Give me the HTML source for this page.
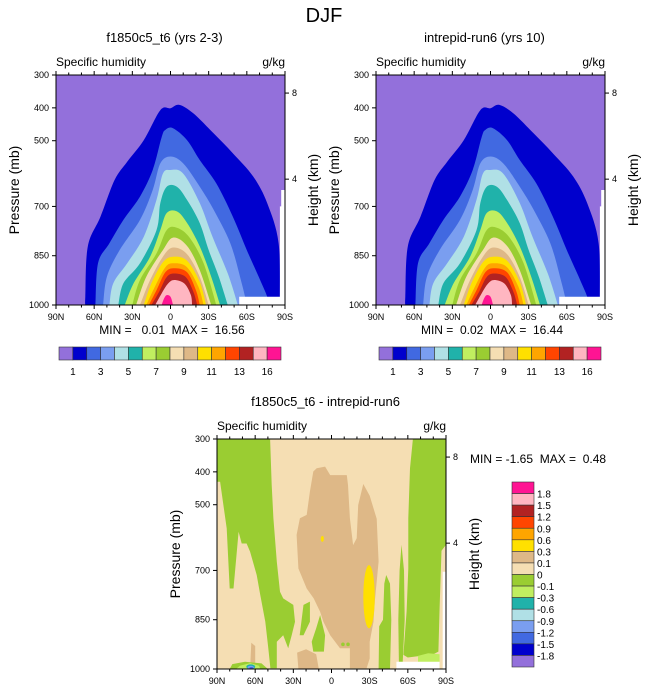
<!DOCTYPE html>
<html><head><meta charset="utf-8"><style>
html,body{margin:0;padding:0;background:#fff;}
svg{display:block;font-family:"Liberation Sans",sans-serif;}
text{white-space:pre;}
</style></head><body>
<svg id="fig" width="648" height="694" viewBox="0 0 648 694" xmlns="http://www.w3.org/2000/svg">
<text x="324" y="22" font-size="20" text-anchor="middle">DJF</text>
<g id="p1"></g>
<g id="p2"></g>
<g id="p3"></g>
</svg>
<script>
// ---- data ----
const topColors = ["#9370db","#0000cd","#4169e1","#7a9ef0","#b0e0e6","#20b2aa","#c0ee60","#9acd32","#f5deb3","#deb887","#ffe000","#ffa500","#ff4500","#b22222","#ffb6c1","#ff1493"];
const topBarLabels = ["1","3","5","7","9","11","13","16"];
const diffColors = ["#ff1493","#ffb6c1","#b22222","#ff4500","#ffa500","#ffe000","#deb887","#f5deb3","#9acd32","#c0ee60","#20b2aa","#b0e0e6","#7a9ef0","#4169e1","#0000cd","#9370db"];
const diffLabels = ["1.8","1.5","1.2","0.9","0.6","0.3","0.1","0","-0.1","-0.3","-0.6","-0.9","-1.2","-1.5","-1.8"];
const latTicks = [90,60,30,0,-30,-60,-90];
const latTickLabels = ["90N","60N","30N","0","30S","60S","90S"];
const presTicks = [300,400,500,700,850,1000];
const heightTicks = [355,617];
const heightLabels = ["8","4"];
// contour level boundaries [lat, pressure]
const L1=[[67,1000],[67,975],[65,822],[55,731],[44,620],[34,564],[21,498],[8,407],[0,401],[-7,391],[-18,417],[-34,478],[-49,538],[-65,609],[-76,690],[-85,812],[-86,1000]];
const L2=[[59,1000],[57,873],[48,812],[37,741],[24,670],[14,589],[7,490],[4,467],[-2,462],[-13,498],[-23,559],[-36,630],[-49,731],[-60,833],[-70,920],[-76,975],[-76,1000]];
const L3=[[53,1000],[50,914],[40,833],[24,741],[14,650],[8,569],[0,548],[-10,569],[-23,640],[-34,711],[-47,812],[-56,934],[-60,1000]];
const L4=[[48,1000],[45,934],[34,873],[21,792],[11,680],[6,600],[0,589],[-10,600],[-23,690],[-33,792],[-45,904],[-53,1000]];
const L5=[[41,1000],[37,934],[24,873],[11,772],[8,690],[3,640],[-5,640],[-13,680],[-23,751],[-30,833],[-38,914],[-45,1000]];
const L6=[[36,1000],[29,934],[16,853],[8,772],[3,720],[-5,715],[-13,750],[-23,822],[-32,914],[-39,1000]];
const L7=[[30,1000],[24,924],[11,843],[3,772],[-5,765],[-15,795],[-26,873],[-36,1000]];
const L8=[[27,1000],[19,914],[6,833],[-2,795],[-13,820],[-23,894],[-32,1000]];
const L9=[[24,1000],[16,924],[6,853],[-2,825],[-13,845],[-23,915],[-30,1000]];
const L10=[[21,1000],[15,934],[6,870],[-2,853],[-13,865],[-23,930],[-28,1000]];
const L11=[[19,1000],[13,950],[4,885],[-3,873],[-13,885],[-22,945],[-26,1000]];
const L12=[[17,1000],[11,955],[4,900],[-3,888],[-13,900],[-20,955],[-23,1000]];
const L13=[[15,1000],[9,960],[3,915],[-3,904],[-12,915],[-18,960],[-21,1000]];
const L14=[[12,1000],[7,965],[2,935],[-3,924],[-11,935],[-16,970],[-17,1000]];
const L15=[[7,1000],[5,980],[3,970],[0,975],[-2,1000]];
const topLevels=[L1,L2,L3,L4,L5,L6,L7,L8,L9,L10,L11,L12,L13,L14,L15];
const topMissing=[[[-54,975],[-90,975],[-90,1000],[-54,1000]],[[-87,650],[-90,650],[-90,1000],[-86,1000],[-86,700],[-87,700]]];
// difference panel regions
const dGreenL=[[90,300],[48.3,300],[47,440],[45.7,541],[43,673],[40.5,765],[38,785],[34,795],[30,805],[28.7,856],[31.3,897],[34,937],[38,897],[43,917],[43,998],[48,998],[49.7,937],[52,856],[56,775],[58.8,714],[64,643],[66.7,618],[70.6,618],[73,582],[77,755],[80,755],[82.4,572],[87.6,430],[90,430]];
const dGreenR=[[-64,300],[-90,300],[-90,622],[-86.5,640],[-85,815],[-84,947],[-80,955],[-70,960],[-60,965],[-56.5,957],[-59,825],[-60.4,694],[-60.4,541],[-61.7,389]];
const dGreenA=[[9,836],[5,897],[6,947],[14.3,947],[15.6,917],[12,876]];
const dGreenB=[[22,805],[17,795],[17,856],[22,897],[25,897]];
const dGreenC=[[-55,622],[-57,700],[-57.5,850],[-56,980],[-53,980],[-52.5,850],[-53.5,700]];
const dGreenD=[[-43,714],[-46,740],[-47,850],[-46,1000],[-37,1000],[-37.5,870],[-40.5,850],[-41.5,740]];
const dGreenE=[[80,1000],[78,985],[68,978],[55,983],[50,1000]];
const dLime=[[-68,1000],[-68,960],[-76,952],[-85,955],[-85,1000]];
const dLimeL=[[75,1000],[72,990],[64,982],[57,990],[56,1000]];
const dTan=[[11.6,389],[5,384],[1,410],[-8,410],[-12,410],[-13,440],[-14.5,541],[-17,623],[-19.8,602],[-21,501],[-25,437],[-30,473],[-35.5,543],[-37,673],[-34,795],[-33,856],[-30,917],[-30,968],[-27.6,998],[-14.5,998],[-14.5,937],[-6.7,937],[1,897],[6.4,856],[9,826],[14,785],[19.5,755],[26,694],[27.4,592],[24.8,541],[19.5,531],[17,460],[14.3,399]];
const dTanB=[[26,1000],[27,950],[20,940],[12,955],[10,1000]];
const dTanC=[[64,1000],[63,920],[60,930],[60,1000]];
const dYellow=[[-29.5,780,4.5,96],[7.2,604,1.2,9]];
const dDots=[[-9,925],[-13,925]];
const dBlue=[[63.5,993,3.5,7,"#20b2aa"],[63.5,995,2.5,5,"#7a9ef0"],[63,997,1.5,3,"#4169e1"]];
const diffMissing=[[[-51,978],[-85,978],[-85,1000],[-51,1000]],[[-87.4,704],[-90,704],[-90,1000],[-87.4,1000]]];

const NS="http://www.w3.org/2000/svg";
function mk(parent,tag,attrs){const e=document.createElementNS(NS,tag);for(const k in attrs)e.setAttribute(k,attrs[k]);parent.appendChild(e);return e;}
function axes(x0,y0){const W=229,H=230;return{x:l=>x0+(90-l)/180*W,y:p=>y0+(p-300)/700*H,W,H,x0,y0};}
function poly(g,ax,pts,fill,name){
  const d=pts.map(q=>ax.x(q[0]).toFixed(1)+","+ax.y(q[1]).toFixed(1)).join(" ");
  const e=mk(g,"polygon",{points:d,fill:fill});
  
  
}
function smooth(g,ax,pts,fill,name){
  const P=pts.map(q=>[ax.x(q[0]),ax.y(q[1])]);
  let d="M"+P[0][0].toFixed(1)+","+P[0][1].toFixed(1);
  for(let i=0;i<P.length-1;i++){
    const p0=P[Math.max(0,i-1)],p1=P[i],p2=P[i+1],p3=P[Math.min(P.length-1,i+2)];
    const c1=[p1[0]+(p2[0]-p0[0])/6,p1[1]+(p2[1]-p0[1])/6];
    const c2=[p2[0]-(p3[0]-p1[0])/6,p2[1]-(p3[1]-p1[1])/6];
    d+=` C${c1[0].toFixed(1)},${c1[1].toFixed(1)} ${c2[0].toFixed(1)},${c2[1].toFixed(1)} ${p2[0].toFixed(1)},${p2[1].toFixed(1)}`;
  }
  d+=" Z";
  const e=mk(g,"path",{d:d,fill:fill});
  
  
}
function frame(g,ax,title,minmax,mmx,mmy,mmAnchor){
  const t=mk(g,"text",{x:ax.x0+ax.W/2-6,y:ax.y0-33,"font-size":13,"text-anchor":"middle"});t.textContent=title;
  
  const s=mk(g,"text",{x:ax.x0,y:ax.y0-9,"font-size":12});s.textContent="Specific humidity";
  
  const u=mk(g,"text",{x:ax.x0+ax.W,y:ax.y0-9,"font-size":12,"text-anchor":"end"});u.textContent="g/kg";
  
  const r=mk(g,"rect",{x:ax.x0,y:ax.y0,width:ax.W,height:ax.H,fill:"none",stroke:"#000","stroke-width":1});
  
  for(let l=90;l>=-90;l-=10){const X=ax.x(l);const maj=(l%30===0);const len=maj?4:2.5;
    mk(g,"line",{x1:X,x2:X,y1:ax.y0,y2:ax.y0-len,stroke:"#000","stroke-width":1});
    mk(g,"line",{x1:X,x2:X,y1:ax.y0+ax.H,y2:ax.y0+ax.H+len,stroke:"#000","stroke-width":1});}
  latTicks.forEach((l,i)=>{const e=mk(g,"text",{x:ax.x(l),y:ax.y0+ax.H+15,"font-size":9,"text-anchor":"middle"});e.textContent=latTickLabels[i];
    });
  presTicks.forEach(p=>{const Y=ax.y(p);mk(g,"line",{x1:ax.x0-4,x2:ax.x0,y1:Y,y2:Y,stroke:"#000"});
    const e=mk(g,"text",{x:ax.x0-7,y:Y+3,"font-size":9,"text-anchor":"end"});e.textContent=p;
    });
  heightTicks.forEach((p,i)=>{const Y=ax.y(p);mk(g,"line",{x1:ax.x0+ax.W,x2:ax.x0+ax.W+4,y1:Y,y2:Y,stroke:"#000"});
    const e=mk(g,"text",{x:ax.x0+ax.W+7,y:Y+3,"font-size":9});e.textContent=heightLabels[i];
    });
  const yl=mk(g,"text",{"font-size":14,"text-anchor":"middle",transform:`translate(${ax.x0-37},${ax.y0+ax.H/2}) rotate(-90)`});yl.textContent="Pressure (mb)";
  
  const hl=mk(g,"text",{"font-size":14,"text-anchor":"middle",transform:`translate(${ax.x0+ax.W+33},${ax.y0+ax.H/2}) rotate(-90)`});hl.textContent="Height (km)";
  
  const m=mk(g,"text",{x:mmx,y:mmy,"font-size":12,"text-anchor":mmAnchor});m.textContent=minmax;
  
}
function topPanel(g,x0,title,mm){
  const ax=axes(x0,75);
  const bg=mk(g,"rect",{x:ax.x0,y:ax.y0,width:ax.W,height:ax.H,fill:topColors[0]});
  
  topLevels.forEach((L,i)=>smooth(g,ax,L,topColors[i+1],"contour-level-"+(i+1)));
  topMissing.forEach(m=>poly(g,ax,m,"#fff","missing-data"));
  frame(g,ax,title,mm,x0+116,334,"middle");
  // colorbar
  const bx=x0+3,bw=222/16,by=347,bh=13;
  for(let i=0;i<16;i++){const r=mk(g,"rect",{x:bx+i*bw,y:by,width:bw,height:bh,fill:topColors[i],stroke:"#333","stroke-width":0.6});
    }
  topBarLabels.forEach((t,i)=>{const e=mk(g,"text",{x:bx+(2*i+1)*bw,y:by+bh+15,"font-size":10,"text-anchor":"middle"});e.textContent=t;
    });
}
topPanel(document.getElementById("p1"),56,"f1850c5_t6 (yrs 2-3)","MIN =   0.01  MAX =  16.56");
topPanel(document.getElementById("p2"),376,"intrepid-run6 (yrs 10)","MIN =  0.02  MAX =  16.44");

(function(){
  const g=document.getElementById("p3");const ax=axes(217,439);
  const bg=mk(g,"rect",{x:ax.x0,y:ax.y0,width:ax.W,height:ax.H,fill:"#f5deb3"});
  
  [dTan,dTanB,dTanC].forEach(p=>poly(g,ax,p,"#deb887","diff-positive-region"));
  [dGreenL,dGreenR,dGreenA,dGreenB,dGreenC,dGreenD,dGreenE].forEach(p=>poly(g,ax,p,"#9acd32","diff-negative-region"));
  [dLime,dLimeL].forEach(p=>poly(g,ax,p,"#c0ee60","diff-negative-strong"));
  dYellow.forEach(q=>{const e=mk(g,"ellipse",{cx:ax.x(q[0]),cy:ax.y(q[1]),rx:q[2]/180*ax.W,ry:q[3]/700*ax.H,fill:"#ffe000"});
    });
  dDots.forEach(q=>{const e=mk(g,"circle",{cx:ax.x(q[0]),cy:ax.y(q[1]),r:1.8,fill:"#9acd32"});
    });
  dBlue.forEach(q=>{const e=mk(g,"ellipse",{cx:ax.x(q[0]),cy:ax.y(q[1]),rx:q[2]/180*ax.W,ry:q[3]/700*ax.H,fill:q[4]});
    });
  diffMissing.forEach(m=>poly(g,ax,m,"#fff","missing-data"));
  frame(g,ax,"f1850c5_t6 - intrepid-run6","MIN = -1.65  MAX =  0.48",470,463,"start");
  const bx=512,bw=22,by=482,bh=185/16;
  for(let i=0;i<16;i++){const r=mk(g,"rect",{x:bx,y:by+i*bh,width:bw,height:bh,fill:diffColors[i],stroke:"#333","stroke-width":0.6});
    }
  diffLabels.forEach((t,i)=>{const e=mk(g,"text",{x:bx+bw+3,y:by+(i+1)*bh+4,"font-size":10});e.textContent=t;
    });
})();
</script>
</body></html>
